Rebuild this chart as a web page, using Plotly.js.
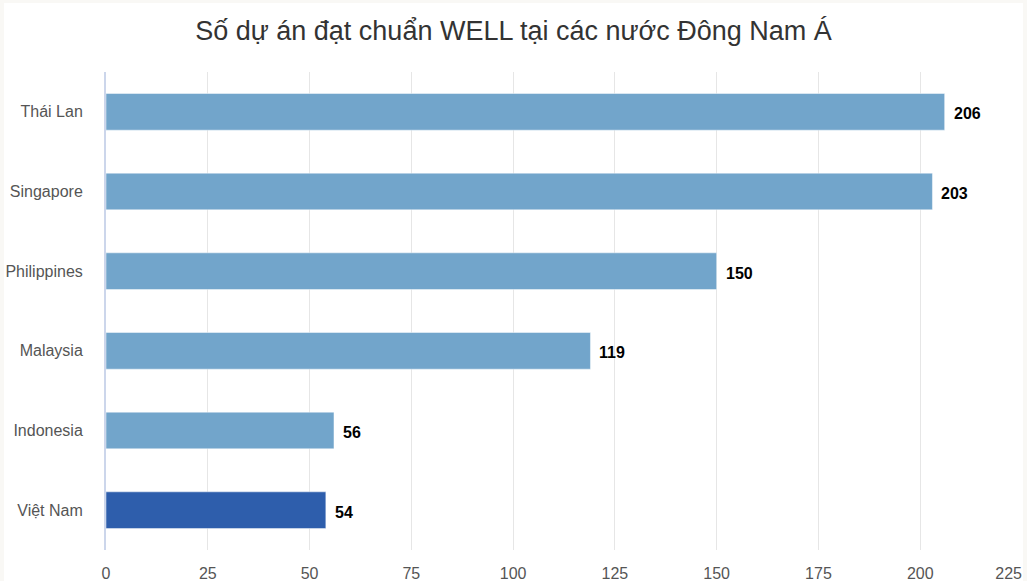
<!DOCTYPE html>
<html>
<head>
<meta charset="utf-8">
<script src="https://cdn.plot.ly/plotly-3.0.1.min.js"></script>
<style>
html,body{margin:0;padding:0;background:#f9f8f5;}
#chart{position:absolute;left:4px;top:3px;width:1019px;height:578px;background:#fff;}
</style>
</head>
<body>
<div id="chart"></div>
<script>
const countries = ["Thái Lan", "Singapore", "Philippines", "Malaysia", "Indonesia", "Việt Nam"];
const projects = [206, 203, 150, 119, 56, 54];
const barColors = ["#72a5cb", "#72a5cb", "#72a5cb", "#72a5cb", "#72a5cb", "#2e5eac"];
const xTicks = [0, 25, 50, 75, 100, 125, 150, 175, 200, 225];
const chartTitle = "Số dự án đạt chuẩn WELL tại các nước Đông Nam Á";

const font = "Liberation Sans, Arial, sans-serif";

const trace = {
  type: "bar",
  orientation: "h",
  y: countries,
  x: projects,
  width: 0.46,
  marker: {color: barColors, line: {color: "rgba(255,255,255,0.45)", width: 1}},
  hoverinfo: "none"
};

const annotations = countries.map((c, i) => ({
  x: projects[i], y: c, xref: "x", yref: "y",
  text: "<b>" + projects[i] + "</b>",
  showarrow: false, xanchor: "left", xshift: 7, yshift: -2,
  font: {family: font, size: 16, color: "#000"}
}));

// last tick label is pulled inside the chart edge, as in the reference (invisible padding)
const xTickText = xTicks.map((v, i) => i === xTicks.length - 1
  ? String(v) + "<span style='color:rgba(0,0,0,0)'>000</span>"
  : String(v));

const layout = {
  width: 1019, height: 578,
  margin: {l: 102, r: 1, t: 69, b: 31},
  paper_bgcolor: "#fff", plot_bgcolor: "#fff",
  title: {text: chartTitle, x: 0.5, xanchor: "center", y: 0.952, yanchor: "middle",
          font: {family: font, size: 27, color: "#333"}},
  showlegend: false,
  xaxis: {
    range: [0, 225], tickvals: xTicks, ticktext: xTickText,
    showgrid: true, gridcolor: "#e6e6e6", gridwidth: 1,
    zeroline: false, showline: false,
    ticks: "outside", ticklen: 9, tickcolor: "rgba(0,0,0,0)",
    ticklabeloverflow: "allow",
    tickfont: {family: font, size: 16, color: "#555"}, fixedrange: true
  },
  yaxis: {
    categoryorder: "array", categoryarray: countries.slice().reverse(),
    range: [-0.5, 5.5], autorange: false,
    showgrid: false, zeroline: false,
    showline: true, linecolor: "#ccd6eb", linewidth: 2,
    ticks: "outside", ticklen: 18, tickcolor: "rgba(0,0,0,0)",
    tickfont: {family: font, size: 16, color: "#555"}, fixedrange: true
  },
  annotations: annotations
};

Plotly.newPlot("chart", [trace], layout, {displayModeBar: false, staticPlot: true});
</script>
</body>
</html>
